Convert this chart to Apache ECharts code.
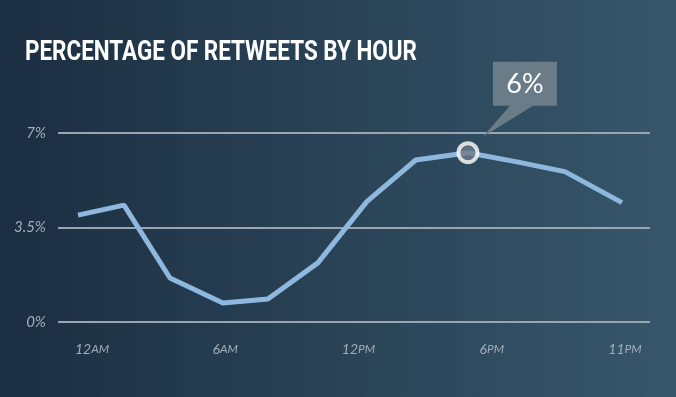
<!DOCTYPE html>
<html><head><meta charset="utf-8">
<script src="https://cdn.jsdelivr.net/npm/echarts@6/dist/echarts.min.js"></script>
<style>html,body{margin:0;padding:0;background:#2a4357}#c{width:676px;height:397px}</style>
</head><body><div id="c"></div>
<script>
const titleText = 'PERCENTAGE OF RETWEETS BY HOUR';
const hourPos = [0, 1.86, 3.72, 5.86, 7.68, 9.7, 11.68, 13.66, 15.77, 17.75, 19.69, 22];
const retweetPct = [3.96, 4.33, 1.63, 0.70, 0.85, 2.19, 4.46, 6.0, 6.27, 5.93, 5.57, 4.42];
const tickLabels = ['12AM', '6AM', '12PM', '6PM', '11PM'];
const yTicks = [0, 3.5, 7];
const highlightIndex = 8;
const calloutText = '6%';

const titleFont = 'bold 28px Roboto';
const cv = document.createElement('canvas').getContext('2d');
cv.font = titleFont;
const titleScale = 392 / cv.measureText(titleText).width;

const chart = echarts.init(document.getElementById('c'), null, {renderer: 'canvas'});
const labelFont = {fontFamily: 'Lato', fontStyle: 'italic', color: '#a3aeb9'};
const lineData = hourPos.map((h, i) => [h, retweetPct[i]]);
chart.setOption({
  animation: false,
  backgroundColor: {type: 'linear', x: 0, y: 0, x2: 1, y2: 0,
    colorStops: [{offset: 0, color: '#1c2e41'}, {offset: 1, color: '#37576c'}]},
  graphic: [{type: 'text', left: 25, top: 39, scaleX: titleScale, originX: 0,
    style: {text: titleText, fill: '#ffffff', font: titleFont}}],
  grid: [
    {left: 58, right: 26, top: 133, bottom: 75},
    {left: 78, right: 54, top: 133, bottom: 75},
    {left: 92, right: 51, top: 133, bottom: 75}
  ],
  xAxis: [
    {gridIndex: 0, type: 'value', min: 0, max: 1, show: false},
    {gridIndex: 1, type: 'value', min: hourPos[0], max: hourPos[hourPos.length - 1], show: false},
    {gridIndex: 2, type: 'category', data: tickLabels, boundaryGap: false,
      axisLine: {show: false}, axisTick: {show: false},
      axisLabel: Object.assign({margin: 20, interval: 0,
        formatter: v => '{n|' + v.replace(/[AP]M/, '') + '}{s|' + v.match(/[AP]M/)[0] + '}',
        rich: {n: Object.assign({fontSize: 14}, labelFont), s: Object.assign({fontSize: 12}, labelFont)}}, labelFont)}
  ],
  yAxis: [
    {gridIndex: 0, type: 'value', min: yTicks[0], max: yTicks[2], interval: yTicks[1],
      axisLine: {show: false}, axisTick: {show: false},
      axisLabel: Object.assign({fontSize: 15, margin: 12, formatter: v => v + '%'}, labelFont),
      splitLine: {lineStyle: {color: '#9aa5b0', width: 2}}},
    {gridIndex: 1, type: 'value', min: yTicks[0], max: yTicks[2], show: false},
    {gridIndex: 2, type: 'value', min: yTicks[0], max: yTicks[2], show: false}
  ],
  series: [
    {type: 'line', xAxisIndex: 1, yAxisIndex: 1, data: lineData, symbol: 'none',
      lineStyle: {color: '#8fb8de', width: 5}, z: 3,
      markPoint: {
        symbol: 'path://M25,-91 L89,-91 L89,-47 L65,-47 L15,-16 L42,-47 L25,-47 Z',
        symbolSize: [74, 75], symbolKeepAspect: false, symbolOffset: [52, -53.5],
        itemStyle: {color: '#6b7c89'},
        label: {show: true, formatter: calloutText, color: '#ffffff', fontFamily: 'Lato', fontSize: 27,
          position: 'inside', offset: [5, -15]},
        data: [{coord: lineData[highlightIndex]}]
      }},
    {type: 'scatter', xAxisIndex: 1, yAxisIndex: 1, z: 4,
      data: [lineData[highlightIndex]], symbol: 'circle', symbolSize: 19,
      itemStyle: {color: '#6b7a86', borderColor: '#ffffff', borderWidth: 4}}
  ]
});
</script></body></html>
